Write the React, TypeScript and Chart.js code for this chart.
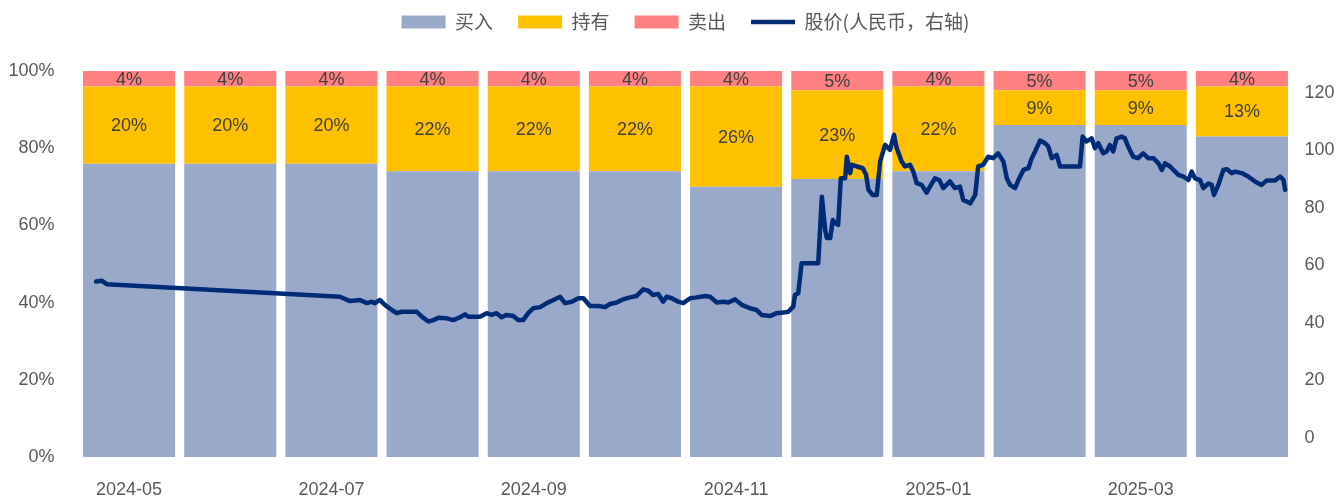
import React, { useEffect, useRef } from 'react';
import { Chart, registerables } from 'chart.js';

Chart.register(...registerables);

const months = ['2024-05', '2024-06', '2024-07', '2024-08', '2024-09', '2024-10', '2024-11', '2024-12', '2025-01', '2025-02', '2025-03', '2025-04'];
const buyPct = [76, 76, 76, 74, 74, 74, 70, 72, 74, 86, 86, 83];
const holdPct = [20, 20, 20, 22, 22, 22, 26, 23, 22, 9, 9, 13];
const sellPct = [4, 4, 4, 4, 4, 4, 4, 5, 4, 5, 5, 4];

const leftTicks = [0, 20, 40, 60, 80, 100];
const rightTicks = [0, 20, 40, 60, 80, 100, 120];

// days since 2024-05-01
const priceDay = [
  5.3, 7.0, 8.5, 78.6,
  81.6, 84.6, 86.7, 88.2, 89.1, 90.6, 92.1, 94.2, 95.7, 97.2,
  99.2, 101.7, 103.2, 105.2, 106.7, 108.2, 110.7, 112.7, 114.7, 116.2,
  117.2, 120.7, 122.7, 124.2, 125.7, 127.2, 128.7, 130.7, 132.2, 133.7,
  135.2, 136.7, 138.8, 140.8, 142.8,
  144.8, 146.3, 148.3, 150.3, 151.8, 153.8, 156.3, 158.3, 159.8, 161.8,
  163.3, 165.8, 167.8, 169.8, 171.3, 172.8, 174.3, 175.8, 176.8, 178.4,
  180.3, 181.8, 183.9, 185.9, 188.4, 189.9, 191.9, 193.9, 195.4, 197.4,
  199.4, 201.9, 203.9, 205.4, 207.9, 209.9, 211.9, 213.4, 214.9,
  215.4, 216.4, 217.4, 218.9, 222.4, 223.5, 224.5, 225.0, 226.0, 226.8,
  227.5, 228.4, 229.2, 230.5, 231.0, 232.0, 232.5, 234.0, 235.8, 236.8,
  237.5, 238.8, 240.0, 241.0, 242.5, 244.0, 245.2, 246.0, 247.5, 248.5,
  250.0, 251.0, 252.0, 253.5, 255.0, 256.0, 257.5, 258.8, 260.0, 262.0,
  263.5, 265.0, 266.0, 268.1, 269.6, 270.5, 272.0, 273.5, 275.0, 276.5,
  278.1, 279.1, 280.1, 281.6, 282.6, 284.1, 285.6, 286.6, 287.6, 289.1,
  290.6, 291.6, 292.6, 294.1, 295.1, 297.1, 301.1, 301.9, 303.1, 304.6,
  305.6, 306.6, 308.1, 309.1, 310.1, 311.1, 312.1, 313.7, 314.6, 315.6,
  317.1, 318.6, 320.1, 321.6, 323.2, 324.7, 325.7, 326.7, 328.2, 329.2,
  330.7, 332.2, 333.7, 334.7, 335.7, 337.2, 338.2, 339.7, 340.7, 341.4,
  342.7, 344.2, 345.2, 346.7, 347.7, 349.7, 351.7, 353.7, 355.7, 357.2,
  359.7, 361.3, 362.3, 362.8,
];

const priceValue = [
  54.4, 54.7, 53.5, 49.1,
  47.6, 48.0, 46.9, 47.4, 46.9, 48.0, 46.3, 44.5, 43.4, 43.9,
  43.9, 43.9, 42.2, 40.5, 41.0, 41.8, 41.6, 41.0, 42.0, 43.0,
  42.2, 42.2, 43.4, 42.8, 43.4, 42.0, 42.8, 42.4, 41.0, 41.0,
  43.4, 45.1, 45.5, 46.9, 48.0,
  49.1, 46.9, 47.4, 48.6, 48.6, 45.9, 45.9, 45.5, 46.6, 47.1,
  48.0, 48.9, 49.4, 51.7, 51.2, 49.7, 50.1, 47.4, 49.1, 48.6,
  47.4, 46.9, 48.6, 48.9, 49.4, 49.1, 47.1, 47.4, 47.1, 48.2,
  46.3, 45.1, 44.5, 42.8, 42.4, 43.4, 43.6, 43.9, 45.7,
  49.7, 50.3, 60.8, 60.8, 60.8, 83.9, 72.3, 69.5, 69.5, 75.8,
  74.7, 74.1, 90.3, 90.3, 97.8, 92.1, 95.0, 94.4, 93.8, 91.5,
  86.3, 84.5, 84.5, 96.1, 101.9, 100.2, 105.4, 100.8, 96.1, 94.4,
  95.0, 92.6, 88.6, 88.0, 85.3, 87.4, 90.3, 89.7, 86.9, 89.2,
  86.9, 87.4, 82.8, 81.6, 84.5, 94.4, 95.0, 97.8, 97.3, 99.0,
  96.1, 90.3, 88.0, 86.9, 89.7, 93.2, 93.8, 97.3, 99.6, 103.4,
  102.5, 101.3, 97.3, 98.4, 94.4, 94.4, 94.4, 104.8, 103.1, 104.2,
  100.8, 102.5, 99.0, 99.6, 101.9, 99.6, 104.2, 104.8, 104.2, 101.3,
  97.8, 97.3, 99.0, 97.3, 97.3, 95.5, 93.2, 95.5, 94.4, 93.2,
  91.5, 90.9, 89.7, 92.6, 90.3, 89.7, 86.9, 88.5, 88.0, 84.5,
  88.0, 93.2, 93.5, 92.1, 92.6, 92.1, 90.9, 89.2, 88.0, 89.5,
  89.5, 90.9, 89.7, 86.3,
];

const TICK_FONT = { family: "'Liberation Sans', Arial, sans-serif", size: 18 };
const TICK_COLOR = '#595959';
const NO_GRID = { display: false, drawTicks: false, tickLength: 0 };

const barLabelPlugin = {
  id: 'barLabels',
  afterDatasetsDraw(chart: any) {
    const ctx = chart.ctx;
    ctx.save();
    ctx.font = "18px 'Liberation Sans', Arial, sans-serif";
    ctx.fillStyle = '#404040';
    ctx.textAlign = 'center';
    ctx.textBaseline = 'middle';
    [1, 2].forEach((di) => {
      const meta = chart.getDatasetMeta(di);
      const data = chart.data.datasets[di].data as number[];
      meta.data.forEach((el: any, i: number) => {
        const { x, y, base } = el.getProps(['x', 'y', 'base'], true);
        ctx.fillText(data[i] + '%', x, (y + base) / 2 + 1);
      });
    });
    ctx.restore();
  },
};

const legendShiftPlugin = {
  id: 'legendShift',
  afterLayout(chart: any) {
    const lg = chart.legend;
    if (lg) {
      lg.top -= 29.5;
      lg.bottom -= 29.5;
    }
  },
};

const barCommon = {
  borderWidth: 0,
  barPercentage: 0.91,
  categoryPercentage: 1,
  grouped: false,
  stack: 'pct',
  xAxisID: 'x',
  yAxisID: 'y',
  order: 1,
  pointStyle: 'rect',
};

export default function App() {
  const ref = useRef<HTMLCanvasElement | null>(null);

  useEffect(() => {
    if (!ref.current) return;
    const linePoints = priceDay.map((d, i) => ({ x: d, y: priceValue[i] }));
    const chart = new Chart(ref.current, {
      type: 'bar',
      data: {
        labels: months,
        datasets: [
          { ...barCommon, label: '买入', data: buyPct, backgroundColor: '#98A9CA' } as any,
          { ...barCommon, label: '持有', data: holdPct, backgroundColor: '#FFC000' } as any,
          { ...barCommon, label: '卖出', data: sellPct, backgroundColor: '#FF8080' } as any,
          {
            type: 'line',
            label: '股价(人民币，右轴)',
            data: linePoints,
            borderColor: '#002C77',
            backgroundColor: '#002C77',
            borderWidth: 4.5,
            pointRadius: 0,
            pointStyle: 'line',
            borderJoinStyle: 'round',
            borderCapStyle: 'round',
            tension: 0,
            xAxisID: 'x2',
            yAxisID: 'y1',
            order: 0,
          } as any,
        ],
      },
      options: {
        responsive: false,
        animation: false,
        layout: { padding: { top: 17, left: 0, right: 0, bottom: 0 } },
        plugins: {
          tooltip: { enabled: false },
          legend: {
            position: 'top',
            fullSize: false,
            labels: {
              usePointStyle: true,
              pointStyleWidth: 44,
              boxHeight: 13,
              padding: 25,
              color: '#595959',
              font: { family: "'Noto Sans CJK SC', sans-serif", size: 19 },
              sort: (a: any, b: any) => a.datasetIndex - b.datasetIndex,
            },
          },
        },
        scales: {
          x: {
            type: 'category',
            stacked: true,
            offset: true,
            grid: { ...NO_GRID, offset: true },
            border: { display: false },
            ticks: {
              autoSkip: false,
              maxRotation: 0,
              color: TICK_COLOR,
              font: TICK_FONT,
              padding: 22,
              callback: (_v: any, i: number) => (i % 2 === 0 ? months[i] : ''),
            },
            afterFit: (s: any) => {
              s.height = 42;
            },
          },
          x2: {
            type: 'linear',
            display: false,
            offset: false,
            min: 0,
            max: 365,
            grid: { offset: false },
          },
          y: {
            type: 'linear',
            position: 'left',
            stacked: true,
            min: 0,
            max: 100,
            grid: NO_GRID,
            border: { display: false },
            ticks: {
              color: TICK_COLOR,
              font: TICK_FONT,
              padding: 24,
              callback: (v: any) => v + '%',
            },
            afterBuildTicks: (s: any) => {
              s.ticks = leftTicks.map((v) => ({ value: v }));
            },
            afterFit: (s: any) => {
              s.width = 78.5;
            },
          },
          y1: {
            type: 'linear',
            position: 'right',
            min: -6.6,
            max: 127.6,
            grid: NO_GRID,
            border: { display: false },
            ticks: {
              color: TICK_COLOR,
              font: TICK_FONT,
              padding: 12,
            },
            afterBuildTicks: (s: any) => {
              s.ticks = rightTicks.map((v) => ({ value: v }));
            },
            afterFit: (s: any) => {
              s.width = 47.5;
            },
          },
        },
      } as any,
      plugins: [barLabelPlugin, legendShiftPlugin],
    });
    return () => chart.destroy();
  }, []);

  return (
    <div style={{ position: 'absolute', left: 0, top: 0, width: 1340, height: 499, background: '#fff' }}>
      <canvas ref={ref} width={1340} height={499} style={{ display: 'block' }} />
    </div>
  );
}
